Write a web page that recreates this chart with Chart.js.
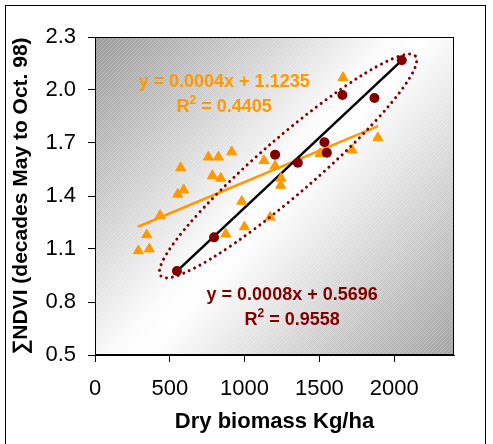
<!DOCTYPE html>
<html>
<head>
<meta charset="utf-8">
<script src="https://cdn.jsdelivr.net/npm/chart.js@4.4.1/dist/chart.umd.min.js"></script>
<style>
  html, body { margin: 0; padding: 0; background: #ffffff; }
  #c { display: block; }
</style>
</head>
<body>
<canvas id="c" width="493" height="444"></canvas>
<script>
// ---- data ----
const xTickValues = [0, 500, 1000, 1500, 2000];
const xTickLabels = ['0', '500', '1000', '1500', '2000'];
const yTickValues = [0.5, 0.8, 1.1, 1.4, 1.7, 2.0, 2.3];
const yTickLabels = ['0.5', '0.8', '1.1', '1.4', '1.7', '2.0', '2.3'];

// orange triangles (all sites)
const triX = [290, 363, 346, 435, 553, 593, 573, 758, 825, 914, 785, 841, 981, 874, 999, 1171, 1130, 1204, 1244, 1241, 1505, 1719, 1891, 1658];
const triY = [1.09, 1.10, 1.18, 1.29, 1.41, 1.435, 1.56, 1.62, 1.62, 1.65, 1.515, 1.50, 1.37, 1.185, 1.225, 1.28, 1.60, 1.57, 1.50, 1.46, 1.64, 1.66, 1.73, 2.07];

// dark red circles (selected sites)
const circX = [548, 796, 1204, 1356, 1534, 1550, 1654, 1868, 2051];
const circY = [0.975, 1.166, 1.634, 1.588, 1.704, 1.645, 1.972, 1.955, 2.168];

// trend lines (end points)
const orangeLineX = [287, 1892];
const orangeLineY = [1.226, 1.796];
const blackLineX = [548, 2051];
const blackLineY = [0.975, 2.168];

// equations
const orangeEq = ['y = 0.0004x + 1.1235', '0.4405'];
const redEq = ['y = 0.0008x + 0.5696', '0.9558'];

// annotation geometry (data units)
const ellipseCenter = [1291, 1.570];
const ellipseTip = [2142, 2.192];
const ellipseHalfWidthPx = 28;
const orangeTextAt = [863, 2.045, 1.904];
const redTextAt = [1318, 0.840, 0.698];

const FONT = "'Liberation Sans', Arial, sans-serif";
const ORANGE = '#FF9900';
const DARKRED = '#800000';

const pts = (xs, ys) => xs.map((x, i) => ({ x: x, y: ys[i] }));

const decoPlugin = {
  id: 'deco',
  beforeDraw(chart) {
    const ctx = chart.ctx;
    const a = chart.chartArea;
    ctx.save();
    ctx.fillStyle = '#ffffff';
    ctx.fillRect(0, 0, chart.width, chart.height);
    ctx.strokeStyle = '#000000';
    ctx.lineWidth = 1;
    ctx.strokeRect(5.5, 5.5, 480, 460);
    // plot background gradient
    const g = ctx.createLinearGradient(a.left, a.top, a.right, a.bottom);
    g.addColorStop(0, '#9a9a9a');
    g.addColorStop(0.46, '#fbfbfb');
    g.addColorStop(0.52, '#ffffff');
    g.addColorStop(1, '#a4a4a4');
    ctx.fillStyle = g;
    ctx.fillRect(a.left, a.top, a.right - a.left, a.bottom - a.top);
    // fine diagonal hatching
    ctx.beginPath();
    ctx.rect(a.left, a.top, a.right - a.left, a.bottom - a.top);
    ctx.clip();
    ctx.strokeStyle = 'rgba(255,255,255,0.22)';
    ctx.lineWidth = 1;
    const h = a.bottom - a.top;
    for (let k = -h; k < a.right - a.left; k += 4) {
      ctx.beginPath();
      ctx.moveTo(a.left + k, a.bottom);
      ctx.lineTo(a.left + k + h, a.top);
      ctx.stroke();
    }
    ctx.restore();
  },
  afterDatasetsDraw(chart) {
    const ctx = chart.ctx;
    const xs = chart.scales.x, ys = chart.scales.y;
    // dotted ellipse
    const cx = xs.getPixelForValue(ellipseCenter[0]);
    const cy = ys.getPixelForValue(ellipseCenter[1]);
    const tx = xs.getPixelForValue(ellipseTip[0]);
    const ty = ys.getPixelForValue(ellipseTip[1]);
    const rot = Math.atan2(ty - cy, tx - cx);
    const semi = Math.hypot(tx - cx, ty - cy);
    ctx.save();
    ctx.strokeStyle = DARKRED;
    ctx.lineWidth = 3;
    ctx.lineCap = 'round';
    ctx.setLineDash([0.01, 6]);
    ctx.beginPath();
    ctx.ellipse(cx, cy, semi, ellipseHalfWidthPx, rot, 0, Math.PI * 2);
    ctx.stroke();
    ctx.restore();

    // equations
    const drawEq = (pos, lines, color) => {
      const px = xs.getPixelForValue(pos[0]);
      const py1 = ys.getPixelForValue(pos[1]);
      const py2 = ys.getPixelForValue(pos[2]);
      ctx.save();
      ctx.fillStyle = color;
      ctx.textBaseline = 'middle';
      ctx.font = 'bold 18px ' + FONT;
      ctx.textAlign = 'center';
      ctx.fillText(lines[0], px, py1);
      // R² = value
      ctx.textAlign = 'left';
      const big = 'bold 18px ' + FONT;
      const small = 'bold 12px ' + FONT;
      ctx.font = big;
      const wR = ctx.measureText('R').width;
      const rest = ' = ' + lines[1];
      const wRest = ctx.measureText(rest).width;
      ctx.font = small;
      const w2 = ctx.measureText('2').width;
      const total = wR + w2 + wRest;
      let x0 = px - total / 2;
      ctx.font = big;
      ctx.fillText('R', x0, py2);
      ctx.font = small;
      ctx.fillText('2', x0 + wR, py2 - 6);
      ctx.font = big;
      ctx.fillText(rest, x0 + wR + w2, py2);
      ctx.restore();
    };
    drawEq(orangeTextAt, orangeEq, ORANGE);
    drawEq(redTextAt, redEq, DARKRED);
  },
  afterDraw(chart) {
    const ctx = chart.ctx;
    const a = chart.chartArea;
    ctx.save();
    ctx.strokeStyle = '#000000';
    ctx.lineWidth = 1;
    ctx.strokeRect(Math.round(a.left) + 0.5, Math.round(a.top) + 0.5,
      Math.round(a.right - a.left) - 1, Math.round(a.bottom - a.top) - 1);
    ctx.restore();
  }
};

new Chart(document.getElementById('c'), {
  type: 'scatter',
  data: {
    datasets: [
      {
        label: 'orange trend',
        type: 'line',
        data: pts(orangeLineX, orangeLineY),
        borderColor: ORANGE,
        borderWidth: 2.5,
        pointRadius: 0,
        fill: false,
        order: 4
      },
      {
        label: 'black trend',
        type: 'line',
        data: pts(blackLineX, blackLineY),
        borderColor: '#000000',
        borderWidth: 2.5,
        pointRadius: 0,
        fill: false,
        order: 3
      },
      {
        label: 'all',
        data: pts(triX, triY),
        pointStyle: 'triangle',
        pointRadius: 5.8,
        backgroundColor: ORANGE,
        borderColor: ORANGE,
        borderWidth: 1,
        order: 2
      },
      {
        label: 'selected',
        data: pts(circX, circY),
        pointStyle: 'circle',
        pointRadius: 5,
        backgroundColor: DARKRED,
        borderColor: DARKRED,
        borderWidth: 0,
        order: 1
      }
    ]
  },
  options: {
    responsive: false,
    animation: false,
    devicePixelRatio: 1,
    layout: { padding: { left: 5, top: 37, right: 39, bottom: 0 } },
    plugins: { legend: { display: false }, tooltip: { enabled: false } },
    scales: {
      x: {
        type: 'linear',
        min: 0,
        max: 2400,
        afterBuildTicks: s => { s.ticks = xTickValues.map(v => ({ value: v })); },
        afterFit: s => { s.height = 89; },
        ticks: {
          color: '#000',
          font: { family: FONT, size: 22 },
          padding: 14,
          maxRotation: 0,
          callback: (v, i) => xTickLabels[i]
        },
        grid: { drawOnChartArea: false, drawTicks: true, tickLength: 7, color: '#000', tickColor: '#000' },
        border: { display: true, color: '#000', width: 1 },
        title: {
          display: true,
          text: 'Dry biomass Kg/ha',
          color: '#000',
          font: { family: FONT, size: 22, weight: 'bold' },
          padding: { top: 0, bottom: 9 }
        }
      },
      y: {
        type: 'linear',
        min: 0.5,
        max: 2.3,
        afterBuildTicks: s => { s.ticks = yTickValues.map(v => ({ value: v })); },
        afterFit: s => { s.width = 90; },
        ticks: {
          color: '#000',
          font: { family: FONT, size: 22 },
          padding: 12,
          callback: (v, i) => yTickLabels[i]
        },
        grid: { drawOnChartArea: false, drawTicks: true, tickLength: 7, color: '#000', tickColor: '#000' },
        border: { display: true, color: '#000', width: 1 },
        title: {
          display: true,
          text: '\u2211NDVI (decades May to Oct. 98)',
          color: '#000',
          font: { family: FONT, size: 21, weight: 'bold' },
          padding: { top: 4, bottom: 0 }
        }
      }
    }
  },
  plugins: [decoPlugin]
});
</script>
</body>
</html>
